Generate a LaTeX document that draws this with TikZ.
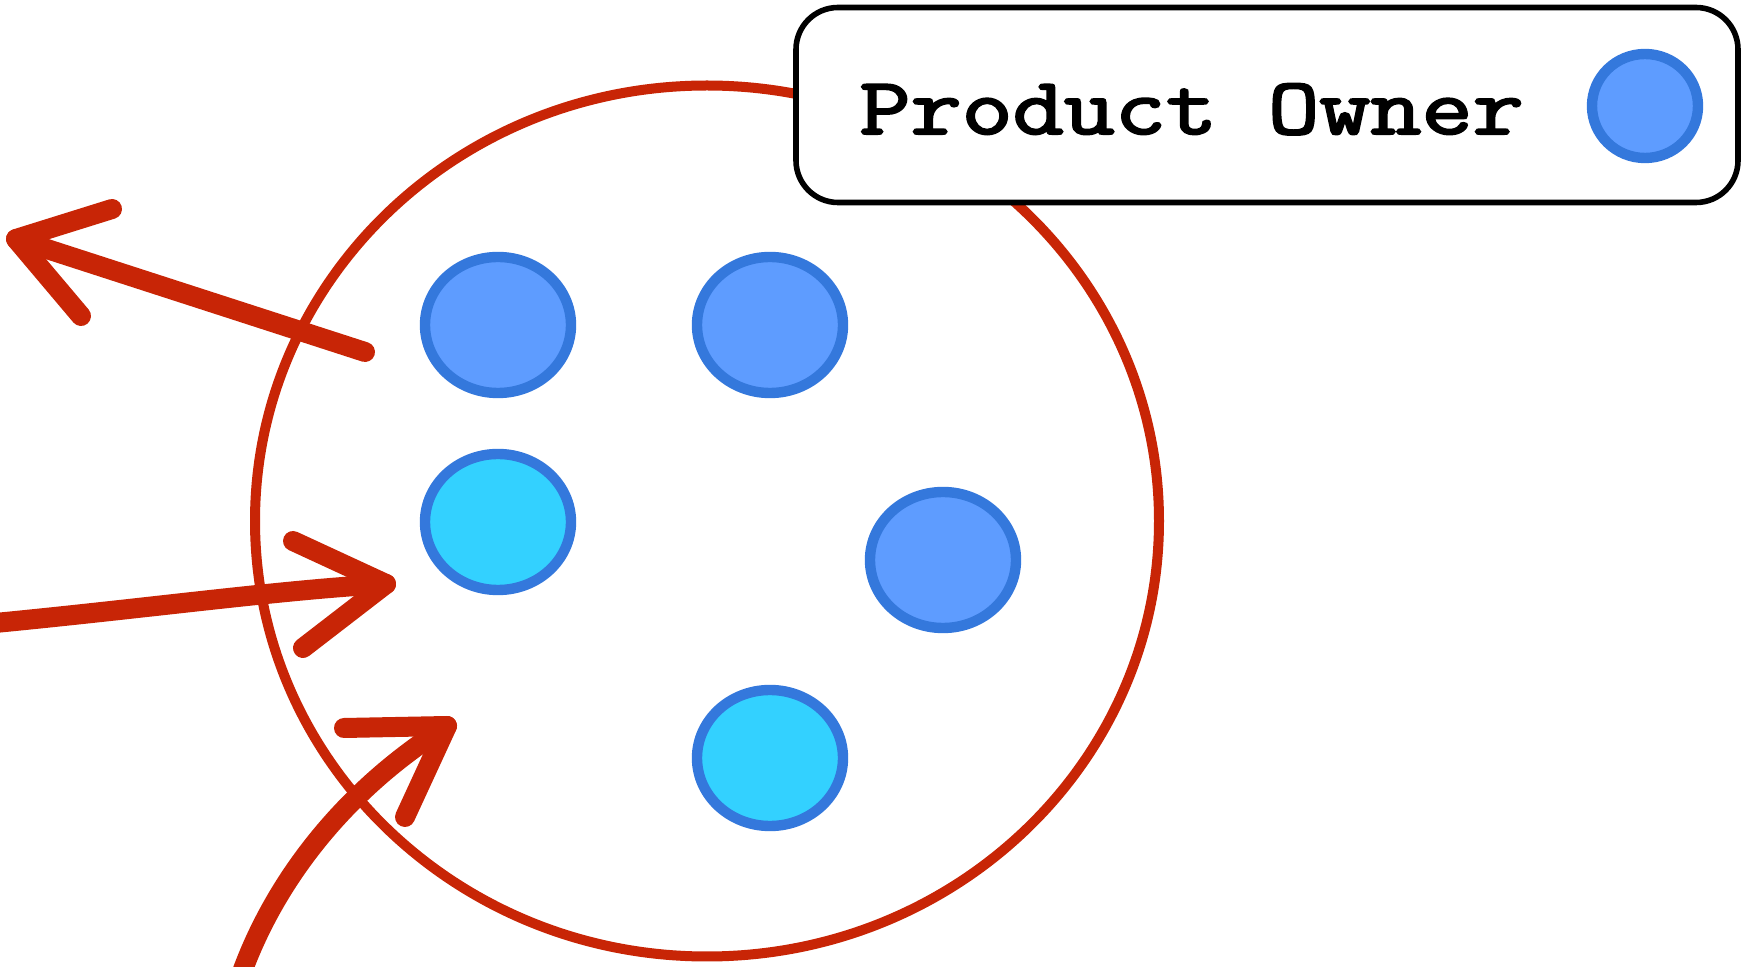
\documentclass[tikz,border=0pt]{standalone}
\usepackage{fontspec}
\newfontfamily\pofont{Latin Modern Mono}[FakeBold=2.5]
\usetikzlibrary{shapes.geometric}
\definecolor{sketchred}{RGB}{200,37,6}
\definecolor{poblue}{RGB}{94,156,255}
\definecolor{devcyan}{RGB}{51,209,255}
\definecolor{ringblue}{RGB}{52,120,220}
\begin{document}
\begin{tikzpicture}[x=0.5pt,y=-0.5pt,
  person/.style={ellipse, draw=ringblue, line width=5.2pt, minimum width=73pt, minimum height=68pt, inner sep=0pt},
  po/.style={person, fill=poblue},
  dev/.style={person, fill=devcyan},
  sketch/.style={draw=sketchred, line width=10pt, line cap=round, line join=round},
  ring/.style={ellipse, draw=sketchred, line width=5pt, minimum width=452pt, minimum height=435.5pt, inner sep=0pt},
  legendbox/.style={draw=black, fill=white, line width=2.8pt, rounded corners=21pt, minimum width=471pt, minimum height=97.5pt, inner sep=0pt},
  legendtext/.style={anchor=base west, inner sep=0pt, font=\fontsize{40.5pt}{48pt}\selectfont\pofont},
]
\useasboundingbox (0,0) rectangle (1742,967);
\fill[white] (0,0) rectangle (1742,967);

% team boundary
\node[ring] (team) at (707,521) {};

% team members
\node[po]  (p1) at (498,325) {};
\node[po]  (p2) at (770,325) {};
\node[dev] (d1) at (498,522) {};
\node[po]  (p3) at (943,560) {};
\node[dev] (d2) at (770,758) {};

% arrow out (upper left)
\coordinate (a1s) at (365,352);
\coordinate (a1t) at (16,239);
\coordinate (a1u) at (112,209);
\coordinate (a1l) at (81,316);
\draw[sketch] (a1s) -- (a1t);
\draw[sketch] (a1u) -- (a1t) -- (a1l);

% arrow in (left)
\coordinate (a2s) at (-5,623);
\coordinate (a2t) at (386,584);
\coordinate (a2u) at (293,541);
\coordinate (a2l) at (303,648);
\draw[sketch] (a2s) .. controls (150,608) and (280,590) .. (a2t);
\draw[sketch] (a2u) -- (a2t) -- (a2l);

% arrow in (bottom)
\coordinate (a3s) at (241,975);
\coordinate (a3t) at (447,726);
\coordinate (a3u) at (344,728);
\coordinate (a3l) at (405,817);
\draw[sketch] (a3s) .. controls (275,880) and (345,790) .. (a3t);
\draw[sketch] (a3u) -- (a3t) -- (a3l);

% legend
\node[legendbox] (legend) at (1267,105) {};
\node[legendtext] (legendlabel) at (859,134) {\scalebox{1.225}[1]{Product Owner}};
\node[po, minimum width=53pt, minimum height=52pt] (legenddot) at (1645,106) {};
\end{tikzpicture}
\end{document}
